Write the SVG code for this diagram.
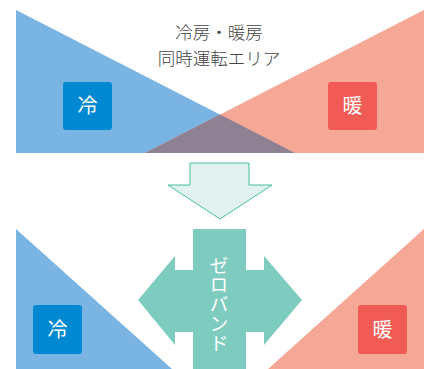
<svg xmlns="http://www.w3.org/2000/svg" width="432" height="369" viewBox="0 0 432 369">
<style>
.cool{fill:#7AB4E2}
.warm{fill:#F6A897}
.lbl{font-family:"Noto Sans CJK JP","Noto Sans",sans-serif;fill:#FFFFFF;font-size:20px;text-anchor:middle}
.title{font-family:"Noto Sans CJK JP","Noto Sans",sans-serif;fill:#444444;font-size:17.5px;font-weight:300;text-anchor:middle}
</style>
<rect width="432" height="369" fill="#FFFFFF"/>
<g id="top-area">
<polygon class="cool" points="16,10 16,153 295,153"/>
<polygon class="warm" points="424,10 424,153 145,153"/>
<polygon fill="#8E8193" points="220,114.6 295,153 145,153"/>
</g>
<g id="title">
<text class="title" x="219" y="39">冷房・暖房</text>
<text class="title" x="219" y="65">同時運転エリア</text>
</g>
<g id="cool-top">
<rect x="63" y="82" width="49" height="48" rx="3" fill="#0088D0"/>
<text class="lbl" x="87.5" y="113">冷</text>
</g>
<g id="warm-top">
<rect x="328" y="82" width="49" height="48" rx="3" fill="#F15B55"/>
<text class="lbl" x="352.5" y="113">暖</text>
</g>
<g id="connectors">
<polygon points="190,163 249,163 249,185 272,185 220,219 168,185 190,185" fill="#E2F3EF" stroke="#45BFA0" stroke-width="1"/>
</g>
<g id="bottom-area">
<polygon class="cool" points="16,229 16,369 172,369"/>
<polygon class="warm" points="424,229 424,369 268,369"/>
</g>
<g id="zeroband">
<polygon fill="#7ECCBF" points="193,229 246,229 246,270 264,270 264,256 302,300 264,345 264,332 246,332 246,369 193,369 193,332 175,332 175,345 138,300 175,256 175,270 193,270"/>
<text x="219" y="256" font-family="&quot;Noto Sans CJK JP&quot;,&quot;Noto Sans&quot;,sans-serif" font-size="19" fill="#FFFFFF" writing-mode="vertical-rl" letter-spacing="0.5">ゼロバンド</text>
</g>
<g id="cool-bottom">
<rect x="33" y="305" width="49" height="49" rx="3" fill="#0088D0"/>
<text class="lbl" x="57.5" y="336.5">冷</text>
</g>
<g id="warm-bottom">
<rect x="358" y="305" width="49" height="49" rx="3" fill="#F15B55"/>
<text class="lbl" x="382.5" y="336.5">暖</text>
</g>
</svg>
